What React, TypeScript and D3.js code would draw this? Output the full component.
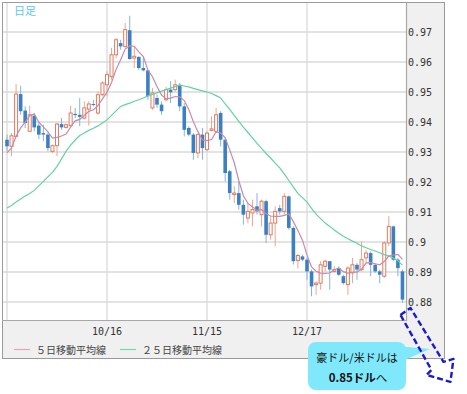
import React, { useRef, useEffect, FC } from "react";
import * as d3 from "d3";

// AUD/USD daily candles, 2013-09-16 .. 2014-01-15 (weekdays)
const opens = [
  0.9341, 0.9319, 0.9352, 0.9493, 0.9438, 0.9369, 0.9421, 0.9388, 0.9363, 0.9358,
  0.9302, 0.9321, 0.9393, 0.9382, 0.9388, 0.9427, 0.9424, 0.9413, 0.9443, 0.946,
  0.943, 0.9491, 0.9524, 0.9552, 0.9624, 0.9663, 0.9652, 0.9706, 0.9613, 0.9617,
  0.958, 0.9572, 0.9447, 0.948, 0.9458, 0.9474, 0.9508, 0.9508, 0.9524, 0.9452,
  0.938, 0.9358, 0.9297, 0.9358, 0.9308, 0.9372, 0.9369, 0.943, 0.9341, 0.9236,
  0.9158, 0.9163, 0.9124, 0.908, 0.9097, 0.9119, 0.9091, 0.9136, 0.9024, 0.9063,
  0.9113, 0.9102, 0.9152, 0.9047, 0.8938, 0.8952, 0.8941, 0.8902, 0.8858, 0.8863,
  0.8919, 0.8936, 0.8902, 0.8913, 0.8886, 0.8858, 0.8897, 0.8924, 0.8908, 0.8947,
  0.8963, 0.8924, 0.8902, 0.8886, 0.8997, 0.9052, 0.8941, 0.8902,
];
const highs = [
  0.9358, 0.9363, 0.9527, 0.9521, 0.9452, 0.9454, 0.943, 0.9402, 0.9391, 0.9363,
  0.9325, 0.9397, 0.9413, 0.9395, 0.9454, 0.9447, 0.948, 0.9469, 0.9469, 0.9474,
  0.9502, 0.9536, 0.9569, 0.9647, 0.968, 0.9674, 0.973, 0.9754, 0.9652, 0.9619,
  0.9617, 0.9574, 0.9513, 0.9491, 0.9469, 0.9517, 0.9536, 0.9541, 0.953, 0.9463,
  0.9386, 0.9363, 0.9363, 0.938, 0.9369, 0.9419, 0.9447, 0.9436, 0.9345, 0.9241,
  0.9186, 0.9202, 0.9141, 0.913, 0.9141, 0.9163, 0.9141, 0.9141, 0.9086, 0.9119,
  0.9124, 0.9163, 0.9155, 0.9052, 0.896, 0.8958, 0.8947, 0.8908, 0.8869, 0.8936,
  0.8941, 0.8936, 0.8919, 0.8919, 0.8891, 0.8919, 0.8947, 0.893, 0.9002, 0.8974,
  0.8969, 0.893, 0.8908, 0.9002, 0.9086, 0.9055, 0.8947, 0.8908,
];
const lows = [
  0.9302, 0.9286, 0.935, 0.9424, 0.938, 0.9369, 0.9369, 0.9343, 0.9336, 0.9302,
  0.9297, 0.9286, 0.9374, 0.9378, 0.938, 0.9413, 0.9386, 0.9408, 0.9388, 0.9452,
  0.9424, 0.9486, 0.9486, 0.9541, 0.9613, 0.9641, 0.9647, 0.9608, 0.958, 0.9574,
  0.9569, 0.9474, 0.9441, 0.9447, 0.9424, 0.9469, 0.9463, 0.9502, 0.9436, 0.9352,
  0.9352, 0.9274, 0.928, 0.9274, 0.9302, 0.9369, 0.9363, 0.9319, 0.9202, 0.9141,
  0.913, 0.9108, 0.9058, 0.9063, 0.9052, 0.9091, 0.9052, 0.8997, 0.9008, 0.8986,
  0.9091, 0.9091, 0.9041, 0.8925, 0.8912, 0.8936, 0.8874, 0.8819, 0.8824, 0.8841,
  0.8902, 0.8841, 0.8897, 0.8886, 0.8858, 0.8824, 0.8863, 0.8874, 0.8902, 0.893,
  0.8886, 0.8897, 0.8863, 0.888, 0.8986, 0.8936, 0.8886, 0.8797,
];
const closes = [
  0.9319, 0.9354, 0.9493, 0.9436, 0.9397, 0.9424, 0.9382, 0.9358, 0.9358, 0.9313,
  0.9321, 0.9393, 0.9382, 0.9391, 0.943, 0.9423, 0.9417, 0.9447, 0.946, 0.9457,
  0.9491, 0.953, 0.9558, 0.9624, 0.9674, 0.9652, 0.9708, 0.961, 0.9619, 0.958,
  0.9572, 0.9486, 0.9497, 0.9458, 0.9436, 0.9508, 0.9499, 0.9524, 0.9452, 0.9374,
  0.9358, 0.9297, 0.9358, 0.9313, 0.9363, 0.9377, 0.9424, 0.9341, 0.923, 0.9163,
  0.9163, 0.9124, 0.9091, 0.9102, 0.9108, 0.9102, 0.9136, 0.9024, 0.9063, 0.9102,
  0.9102, 0.9152, 0.9047, 0.8936, 0.8955, 0.8941, 0.8902, 0.8852, 0.8863, 0.8924,
  0.8936, 0.8908, 0.8908, 0.8891, 0.8863, 0.8913, 0.8924, 0.8908, 0.8941, 0.8963,
  0.8924, 0.8902, 0.8891, 0.8997, 0.9052, 0.8941, 0.8913, 0.8808,
];
const priorCloses = [0.927, 0.93, 0.9296, 0.93];

// 25-day moving average as drawn
const ma25 = [
  0.9113, 0.9122, 0.9133, 0.9143, 0.9153, 0.9162, 0.9172, 0.9187, 0.9202, 0.9217,
  0.9232, 0.9252, 0.9277, 0.9303, 0.9323, 0.934, 0.9355, 0.9363, 0.9372, 0.9379,
  0.9387, 0.9397, 0.9407, 0.9422, 0.9437, 0.9452, 0.9458, 0.9463, 0.9469, 0.9474,
  0.948, 0.9487, 0.9492, 0.9497, 0.9503, 0.9508, 0.9513, 0.9518, 0.9523, 0.952,
  0.9517, 0.9512, 0.9508, 0.9504, 0.95, 0.9495, 0.9488, 0.948, 0.946, 0.9442,
  0.9422, 0.9402, 0.9383, 0.9365, 0.9347, 0.9329, 0.9312, 0.9295, 0.928, 0.9263,
  0.9247, 0.9227, 0.9205, 0.9183, 0.9162, 0.9148, 0.9133, 0.9112, 0.9093, 0.9078,
  0.9063, 0.9052, 0.904, 0.9029, 0.9019, 0.9011, 0.9003, 0.8996, 0.8987, 0.8981,
  0.8975, 0.897, 0.8964, 0.8958, 0.8953, 0.8947, 0.8937, 0.8923,
];

const yTicks = [0.97, 0.96, 0.95, 0.94, 0.93, 0.92, 0.91, 0.9, 0.89, 0.88];
const xTickLabels = ["9/16", "10/16", "11/15", "12/17"];
const legendLabels = ["５日移動平均線", "２５日移動平均線"];
const periodLabel = "日足";
const calloutLine1 = "豪ドル/米ドルは";
const calloutBold = "0.85ドル";
const calloutTail = "へ";

const App: FC = () => {
  const svgRef = useRef<SVGSVGElement>(null);

  useEffect(() => {
    const svg = d3.select(svgRef.current);
    svg.selectAll("*").remove();

    const width = 467;
    const height = 394;
    const plotL = 2, plotR = 406, plotT = 2, plotB = 320;
    const frameR = 444, frameB = 358;
    const mono = "'DejaVu Sans Mono', monospace";
    const jp = "'Noto Sans CJK JP', sans-serif";

    const days = d3.timeDay
      .range(new Date(2013, 8, 16), new Date(2014, 0, 16))
      .filter((d) => d.getDay() % 6 !== 0);
    const fmt = d3.timeFormat("%-m/%-d");
    const candles = days.map((d, i) => ({
      i,
      label: fmt(d),
      open: opens[i],
      high: highs[i],
      low: lows[i],
      close: closes[i],
    }));

    const allCloses = [...priorCloses, ...closes];
    const ma5 = closes.map((_, i) => d3.mean(allCloses.slice(i, i + 5)) as number);

    const x = d3.scaleLinear().domain([0, candles.length - 1]).range([7, 7 + (candles.length - 1) * (100 / 22)]);
    const y = d3.scaleLinear().domain([0.874, 0.98]).range([plotB, plotT]);

    svg.append("rect").attr("width", width).attr("height", height).attr("fill", "#fff");
    // axis areas
    svg.append("rect").attr("x", plotR).attr("y", plotT).attr("width", frameR - plotR).attr("height", frameB - plotT).attr("fill", "#f0f0f0");
    svg.append("rect").attr("x", plotL).attr("y", plotB).attr("width", frameR - plotL).attr("height", frameB - plotB).attr("fill", "#f0f0f0");

    svg.append("clipPath").attr("id", "plot-clip")
      .append("rect").attr("x", plotL).attr("y", plotT).attr("width", plotR - plotL).attr("height", plotB - plotT);

    // grid
    const grid = svg.append("g").attr("stroke", "#dadada").attr("stroke-width", 1.3);
    grid.selectAll("line.h").data(yTicks).enter().append("line")
      .attr("x1", plotL).attr("x2", plotR)
      .attr("y1", (d) => y(d)).attr("y2", (d) => y(d));
    const tickCandles = candles.filter((c) => xTickLabels.includes(c.label));
    grid.selectAll("line.v").data(tickCandles).enter().append("line")
      .attr("x1", (d) => x(d.i)).attr("x2", (d) => x(d.i))
      .attr("y1", plotT).attr("y2", plotB);

    const plot = svg.append("g").attr("clip-path", "url(#plot-clip)");

    // candles
    const up = (c: any) => c.close >= c.open;
    const g = plot.selectAll("g.candle").data(candles).enter().append("g").attr("class", "candle");
    g.append("line")
      .attr("x1", (d) => x(d.i)).attr("x2", (d) => x(d.i))
      .attr("y1", (d) => y(d.high)).attr("y2", (d) => y(d.low))
      .attr("stroke", (d) => (up(d) ? "#f0a48f" : "#82b4e2"))
      .attr("stroke-width", 1);
    g.append("rect")
      .attr("x", (d) => x(d.i) - (up(d) ? 1.5 : 1.8))
      .attr("width", (d) => (up(d) ? 3 : 3.6))
      .attr("y", (d) => y(Math.max(d.open, d.close)))
      .attr("height", (d) => Math.max(1, Math.abs(y(d.open) - y(d.close))))
      .attr("fill", (d) => (up(d) ? "#fff" : "#3b80c2"))
      .attr("stroke", (d) => (up(d) ? "#e07b60" : "none"))
      .attr("stroke-width", 1);

    // moving averages
    const line = d3.line<number>().x((_, i) => x(i)).y((d) => y(d));
    plot.append("path").attr("d", line(ma25)).attr("fill", "none").attr("stroke", "#62d3a2").attr("stroke-width", 1.2);
    plot.append("path").attr("d", line(ma5)).attr("fill", "none").attr("stroke", "#c98aa8").attr("stroke-width", 1.2);

    // borders
    svg.append("rect").attr("x", plotL + 0.5).attr("y", plotT + 0.5).attr("width", frameR - plotL).attr("height", frameB - plotT)
      .attr("fill", "none").attr("stroke", "#9a9a9a");
    svg.append("line").attr("x1", plotR + 0.5).attr("x2", plotR + 0.5).attr("y1", plotT).attr("y2", plotB + 1).attr("stroke", "#a8a8a8").attr("stroke-width", 1.2);
    svg.append("line").attr("x1", plotL).attr("x2", plotR).attr("y1", plotB + 0.5).attr("y2", plotB + 0.5).attr("stroke", "#a8a8a8").attr("stroke-width", 1.2);

    // y labels
    svg.append("g").selectAll("text").data(yTicks).enter().append("text")
      .attr("x", plotR + 2).attr("y", (d) => y(d) + 4)
      .attr("font-family", mono).attr("font-size", 10).attr("fill", "#333")
      .text((d) => String(d));

    // x labels
    svg.append("g").selectAll("text").data(tickCandles.filter((c) => x(c.i) - 15 > plotL)).enter().append("text")
      .attr("x", (d) => x(d.i)).attr("y", plotB + 15)
      .attr("text-anchor", "middle")
      .attr("font-family", mono).attr("font-size", 10).attr("fill", "#333")
      .text((d) => d.label);

    // legend
    const legendColors = ["#e6a6ba", "#74d8aa"];
    const lg = svg.append("g").selectAll("g").data(legendLabels).enter().append("g")
      .attr("transform", (_, i) => `translate(${i === 0 ? 14 : 120},349.5)`);
    lg.append("line").attr("x1", 0).attr("x2", 16).attr("stroke", (_, i) => legendColors[i]).attr("stroke-width", 1.2);
    lg.append("text").attr("x", 22).attr("y", 4)
      .attr("font-family", jp).attr("font-size", 10).attr("fill", "#444")
      .text((d) => d);

    // period label
    svg.append("text").attr("x", 14).attr("y", 15)
      .attr("font-family", jp).attr("font-size", 11).attr("fill", "#5cc6f0")
      .text(periodLabel);

    // callout bubble
    const bubble = svg.append("g");
    bubble.append("rect").attr("x", 308).attr("y", 342).attr("width", 98).attr("height", 48).attr("rx", 8)
      .attr("fill", "#80e8fb");
    bubble.append("polygon").attr("points", "396,346 430,349 400,362").attr("fill", "#80e8fb");
    bubble.append("text").attr("x", 357).attr("y", 362).attr("text-anchor", "middle")
      .attr("font-family", jp).attr("font-size", 11).attr("fill", "#111")
      .text(calloutLine1);
    const t2 = bubble.append("text").attr("x", 358).attr("y", 382).attr("text-anchor", "middle")
      .attr("font-family", jp).attr("font-size", 11.5).attr("fill", "#111");
    t2.append("tspan").attr("font-weight", "bold").text(calloutBold);
    t2.append("tspan").text(calloutTail);

    // dashed arrow from the last candle
    const last = candles[candles.length - 1];
    const ax = x(last.i) - 2;
    const ay = y(last.low) + 12;
    const arrowPts: [number, number][] = [
      [0, 0], [10, -7], [43, 47], [53, 44], [50, 67], [26, 60], [31, 55],
    ];
    svg.append("polygon")
      .attr("points", arrowPts.map(([dx, dy]) => `${ax + dx},${ay + dy}`).join(" "))
      .attr("fill", "none").attr("stroke", "#1a1ad0").attr("stroke-width", 2.4)
      .attr("stroke-dasharray", "6 3").attr("stroke-linejoin", "round");
  }, []);

  return (
    <div style={{ position: "absolute", left: 0, top: 0 }}>
      <svg ref={svgRef} width={467} height={394} style={{ display: "block" }} />
    </div>
  );
};

export default App;
